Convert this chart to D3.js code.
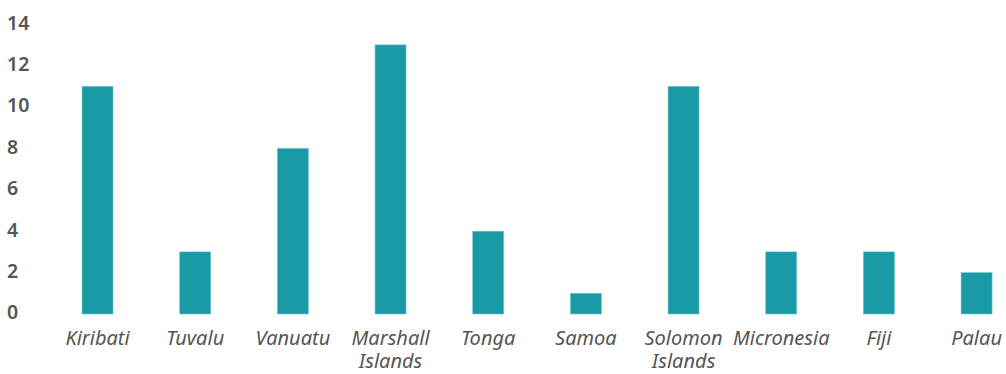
<!DOCTYPE html>
<html>
<head>
<meta charset="utf-8">
<script src="https://cdn.jsdelivr.net/npm/d3@7"></script>
<style>
  html, body { margin: 0; padding: 0; background: #fff; }
  svg { display: block; }
</style>
</head>
<body>
<svg id="chart" width="1006" height="374"></svg>
<script>
// Countries (label lines) and their values
const categories = [
  ["Kiribati"], ["Tuvalu"], ["Vanuatu"], ["Marshall", "Islands"], ["Tonga"],
  ["Samoa"], ["Solomon", "Islands"], ["Micronesia"], ["Fiji"], ["Palau"]
];
const values = [11, 3, 8, 13, 4, 1, 11, 3, 3, 2];
const yTicks = [0, 2, 4, 6, 8, 10, 12, 14];

const svg = d3.select("#chart");
const keys = categories.map(c => c.join(" "));
const font = "'Noto Sans', 'Open Sans', sans-serif";

const x = d3.scaleBand()
  .domain(keys)
  .range([48.7, 1025.4])
  .paddingInner(0.683)
  .paddingOuter(0.3415);

const y = d3.scaleLinear()
  .domain([0, 14])
  .range([314, 24.2]);

// y tick labels, left-aligned
svg.append("g")
  .selectAll("text")
  .data(yTicks)
  .join("text")
  .attr("x", 7)
  .attr("y", d => y(d))
  .attr("dy", "0.28em")
  .attr("font-family", font)
  .attr("font-weight", 600)
  .attr("font-size", 19.5)
  .attr("fill", "#555")
  .text(d => d);

// bars
svg.append("g")
  .selectAll("rect")
  .data(values)
  .join("rect")
  .attr("x", (d, i) => x(keys[i]))
  .attr("y", d => y(d))
  .attr("width", x.bandwidth())
  .attr("height", d => y(0) - y(d))
  .attr("fill", "#1a9aa6")
  .attr("stroke", "#6cc3cb")
  .attr("stroke-width", 0.6);

// category labels, wrapped over two lines where needed
const lab = svg.append("g")
  .selectAll("text")
  .data(categories)
  .join("text")
  .attr("x", (d, i) => x(keys[i]) + x.bandwidth() / 2)
  .attr("y", 345)
  .attr("text-anchor", "middle")
  .attr("font-family", font)
  .attr("font-style", "italic")
  .attr("font-size", 20)
  .attr("fill", "#555");

lab.selectAll("tspan")
  .data(d => d)
  .join("tspan")
  .attr("x", function () { return d3.select(this.parentNode).attr("x"); })
  .attr("dy", (d, i) => i === 0 ? 0 : 22.5)
  .text(d => d);
</script>
</body>
</html>
